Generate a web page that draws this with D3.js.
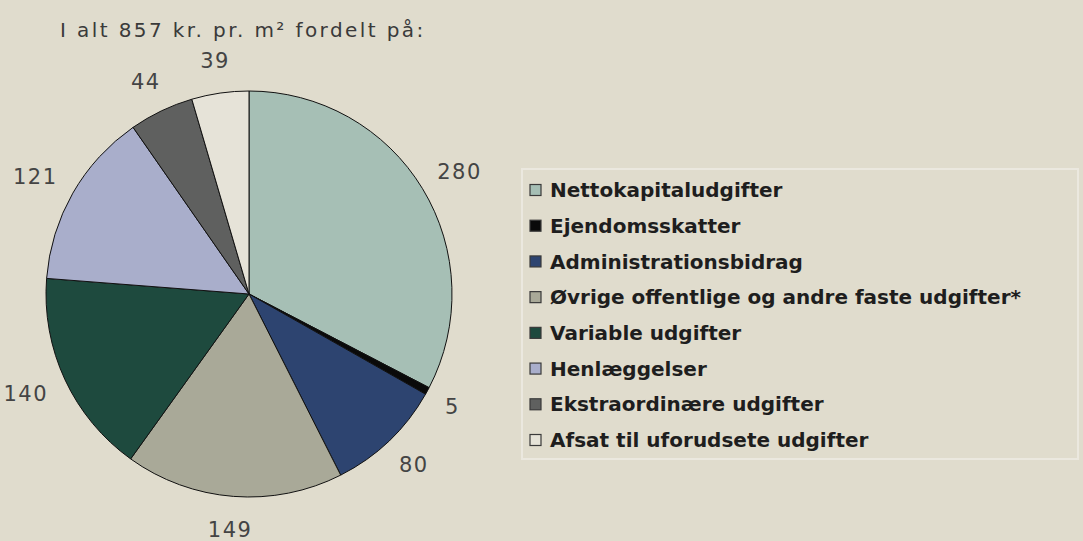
<!DOCTYPE html>
<html>
<head>
<meta charset="utf-8">
<script src="https://cdn.jsdelivr.net/npm/d3@7"></script>
<style>
  html, body { margin: 0; padding: 0; background: #e0dccd; }
  svg { display: block; }
</style>
</head>
<body>
<svg id="chart" width="1083" height="541"></svg>
<script>
const categories = [
  'Nettokapitaludgifter',
  'Ejendomsskatter',
  'Administrationsbidrag',
  'Øvrige offentlige og andre faste udgifter*',
  'Variable udgifter',
  'Henlæggelser',
  'Ekstraordinære udgifter',
  'Afsat til uforudsete udgifter'
];
const values = [280, 5, 80, 149, 140, 121, 44, 39];
const colors = ['#a6bfb5', '#0a0a0a', '#2d4470', '#a9a998', '#1e4a3e', '#a9aecb', '#5f605f', '#e6e3d8'];
const title = 'I alt 857 kr. pr. m² fordelt på:';

const svg = d3.select('#chart');
const cx = 249, cy = 294, radius = 203;
const labelRadius = 224;

const data = categories.map((name, i) => ({ name, value: values[i] }));

const color = d3.scaleOrdinal().domain(categories).range(colors);

const pie = d3.pie().value(d => d.value).sort(null);
const arc = d3.arc().innerRadius(0).outerRadius(radius);
const labelArc = d3.arc().innerRadius(labelRadius).outerRadius(labelRadius);

svg.append('text')
  .attr('x', 60)
  .attr('y', 37)
  .attr('font-family', 'DejaVu Sans')
  .attr('font-size', 20)
  .attr('letter-spacing', 2.4)
  .attr('fill', '#3a3a3a')
  .text(title);

const g = svg.append('g').attr('transform', `translate(${cx},${cy})`);

const arcs = pie(data);

g.selectAll('path')
  .data(arcs)
  .join('path')
  .attr('d', arc)
  .attr('fill', d => color(d.data.name))
  .attr('stroke', '#111')
  .attr('stroke-width', 1);

// labels: box pushed outward from a point just outside the rim
const labels = g.selectAll('text.lbl')
  .data(arcs)
  .join('text')
  .attr('class', 'lbl')
  .attr('text-anchor', 'middle')
  .attr('dy', '0.35em')
  .attr('font-family', 'DejaVu Sans')
  .attr('font-size', 21)
  .attr('letter-spacing', 1.5)
  .attr('fill', '#444')
  .text(d => d.data.value);

labels.each(function(d) {
  const box = this.getBBox();
  const a = (d.startAngle + d.endAngle) / 2;
  const [px, py] = labelArc.centroid(d);
  const x = px + Math.sin(a) * box.width / 2;
  const y = py - Math.cos(a) * box.height / 2;
  d3.select(this).attr('transform', `translate(${x},${y})`);
});

// legend
const legend = svg.append('g');
legend.append('rect')
  .attr('x', 522).attr('y', 169)
  .attr('width', 556).attr('height', 290)
  .attr('fill', 'none')
  .attr('stroke', '#ebe8df')
  .attr('stroke-width', 2);

const rowY = d3.scalePoint().domain(categories).range([190, 440]);

const items = legend.selectAll('g.item')
  .data(categories)
  .join('g')
  .attr('class', 'item')
  .attr('transform', d => `translate(0,${rowY(d)})`);

items.append('rect')
  .attr('x', 530).attr('y', -5.5)
  .attr('width', 11).attr('height', 11)
  .attr('fill', d => color(d))
  .attr('stroke', '#3a3a3a')
  .attr('stroke-width', 1.2);

items.append('text')
  .attr('x', 550)
  .attr('dy', '0.36em')
  .attr('font-family', 'DejaVu Sans')
  .attr('font-weight', 'bold')
  .attr('font-size', 20)
  .attr('fill', '#1e1e1e')
  .text(d => d);
</script>
</body>
</html>
